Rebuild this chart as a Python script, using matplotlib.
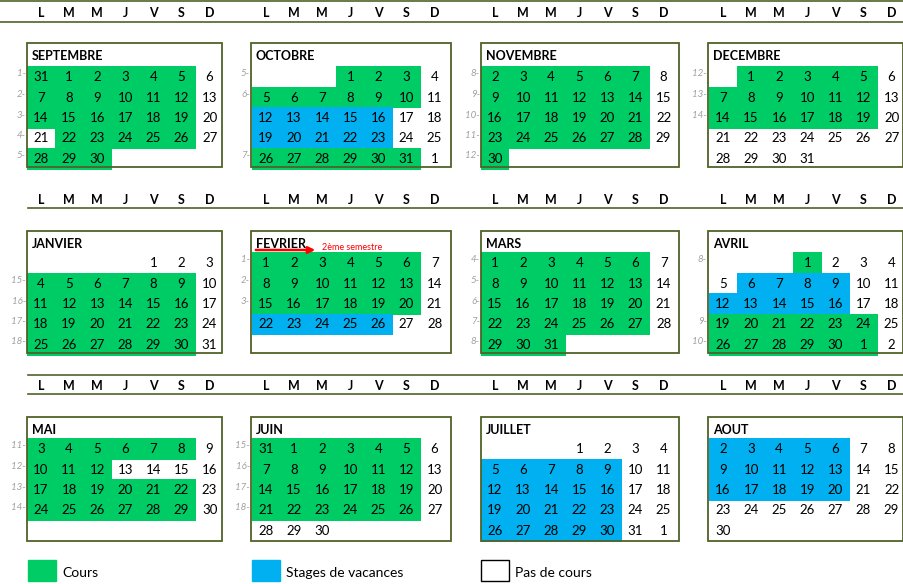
import matplotlib.pyplot as plt
from matplotlib.patches import Rectangle

# ---------------------------------------------------------------------------
# Data
# ---------------------------------------------------------------------------

day_letters = ["L", "M", "M", "J", "V", "S", "D"]

month_names = ["SEPTEMBRE", "OCTOBRE", "NOVEMBRE", "DECEMBRE",
               "JANVIER", "FEVRIER", "MARS", "AVRIL",
               "MAI", "JUIN", "JUILLET", "AOUT"]
# number in the first cell, value after which numbering wraps to 1, cells shown
first_num = [31, 1, 2, 1, 1, 1, 1, 1, 3, 31, 1, 2]
wrap_at = [31, 31, 30, 31, 31, 28, 31, 30, 31, 31, 31, 31]
n_cells = [31, 32, 29, 31, 31, 28, 31, 32, 28, 31, 32, 29]
first_col = [0, 3, 0, 1, 4, 0, 0, 3, 0, 0, 3, 0]

# G = cours, B = stages de vacances, W = pas de cours, one string per week row
cell_colors = [
    ["GGGGGGW", "GGGGGGW", "GGGGGGW", "WGGGGGW", "GGG"],
    ["   GGGW", "GGGGGGW", "BBBBBWW", "BBBBBWW", "GGGGGGW"],
    ["GGGGGGW", "GGGGGGW", "GGGGGGW", "GGGGGGW", "G"],
    [" GGGGGW", "GGGGGGW", "GGGGGGW", "WWWWWWW", "WWWW"],
    ["    WWW", "GGGGGGW", "GGGGGGW", "GGGGGGW", "GGGGGGW"],
    ["GGGGGGW", "GGGGGGW", "GGGGGGW", "BBBBBWW"],
    ["GGGGGGW", "GGGGGGW", "GGGGGGW", "GGGGGGW", "GGG"],
    ["   GWWW", "WBBBBWW", "BBBBBWW", "GGGGGGW", "GGGGGGW"],
    ["GGGGGGW", "GGGWWWW", "GGGGGGW", "GGGGGGW"],
    ["GGGGGGW", "GGGGGGW", "GGGGGGW", "GGGGGGW", "WWW"],
    ["   WWWW", "BBBBBWW", "BBBBBWW", "BBBBBWW", "BBBBBWW"],
    ["BBBBBWW", "BBBBBWW", "BBBBBWW", "WWWWWWW", "W"],
]

week_numbers = [
    [1, 2, 3, 4, 5], [5, 6, None, None, 7], [8, 9, 10, 11, 12], [12, 13, 14, None, None],
    [None, 15, 16, 17, 18], [1, 2, 3, None], [4, 5, 6, 7, 8], [8, None, None, 9, 10],
    [11, 12, 13, 14], [15, 16, 17, 18, None], [], [],
]

legend_labels = ["Cours", "Stages de vacances", "Pas de cours"]

# ---------------------------------------------------------------------------
# Styles / layout (pixel coordinates)
# ---------------------------------------------------------------------------

COLORS = {"G": "#00CC66", "B": "#00B0F0", "W": "white", " ": None}
OLIVE = "#4F6228"
FONT = "Lato"

col_x0 = [41, 266, 495, 723]      # centre of the Monday column
col_box = [(27, 222), (251, 451), (481, 679), (708, 903)]
step_x = 28.1
row_y0 = [77, 263, 449]           # centre of first week row
row_box = [(43, 167), (231, 353), (417, 541)]
header_y = [13, 200, 386]
header_lines = [((0, 1), (0, 22)), ((None, None), (28, 208)), ((28, 375), (28, 394))]
step_y = 20.5

fig = plt.figure(figsize=(9.04, 5.84), dpi=100)
ax = fig.add_axes([0, 0, 1, 1])
ax.set_xlim(0, 904)
ax.set_ylim(584, 0)
ax.axis("off")

for r in range(3):
    top, bottom = header_lines[r]
    if top[0] is not None:
        ax.plot([top[0], 904], [top[1], top[1]], color=OLIVE, lw=1.2)
    ax.plot([bottom[0], 904], [bottom[1], bottom[1]], color=OLIVE, lw=1.2)
    for c in range(4):
        for k, letter in enumerate(day_letters):
            ax.text(col_x0[c] + k * step_x, header_y[r], letter, ha="center", va="center",
                    fontsize=9, fontweight="bold", family=FONT)

for m, name in enumerate(month_names):
    r, c = divmod(m, 4)
    bx0, bx1 = col_box[c]
    by0, by1 = row_box[r]
    # colour fills
    for w, row in enumerate(cell_colors[m]):
        for k, ch in enumerate(row):
            if COLORS[ch] and ch != "W":
                cx = col_x0[c] + k * step_x
                cy = row_y0[r] + w * step_y
                ax.add_patch(Rectangle((cx - step_x / 2 - 0.3, cy - step_y / 2 - 0.3),
                                       step_x + 0.6, step_y + 0.6, color=COLORS[ch], lw=0))
    ax.add_patch(Rectangle((bx0, by0), bx1 - bx0, by1 - by0, fill=False,
                           edgecolor=OLIVE, lw=1.3, zorder=3))
    ax.text(bx0 + 5, by0 + 13, name, ha="left", va="center", fontsize=9,
            fontweight="bold", family=FONT)
    # day numbers
    num = first_num[m]
    for i in range(n_cells[m]):
        pos = first_col[m] + i
        w, k = divmod(pos, 7)
        ax.text(col_x0[c] + k * step_x, row_y0[r] + w * step_y, str(num),
                ha="center", va="center", fontsize=9.5, family=FONT)
        num = 1 if num == wrap_at[m] else num + 1
    # week numbers
    for w, wk in enumerate(week_numbers[m]):
        if wk is not None:
            ax.text(bx0 - 1, row_y0[r] + w * step_y - 3, f"{wk}-", ha="right", va="center",
                    fontsize=7, style="italic", color="#A0A0A0", family=FONT)

# 2ème semestre marker
ax.annotate("", xy=(318, 250), xytext=(253, 250),
            arrowprops=dict(arrowstyle="-|>", color="red", lw=1.8, mutation_scale=10))
ax.text(322, 247, "2ème semestre", color="red", fontsize=6.5, ha="left", va="center", family=FONT)

# legend
legend_x = [28, 252, 481]
legend_fc = [COLORS["G"], COLORS["B"], "white"]
for lx, fc, label in zip(legend_x, legend_fc, legend_labels):
    ax.add_patch(Rectangle((lx, 560), 28, 21, facecolor=fc,
                           edgecolor="black" if fc == "white" else fc, lw=1))
    ax.text(lx + 34, 573, label, ha="left", va="center", fontsize=10, family=FONT)

fig.savefig("out.png", dpi=100)
